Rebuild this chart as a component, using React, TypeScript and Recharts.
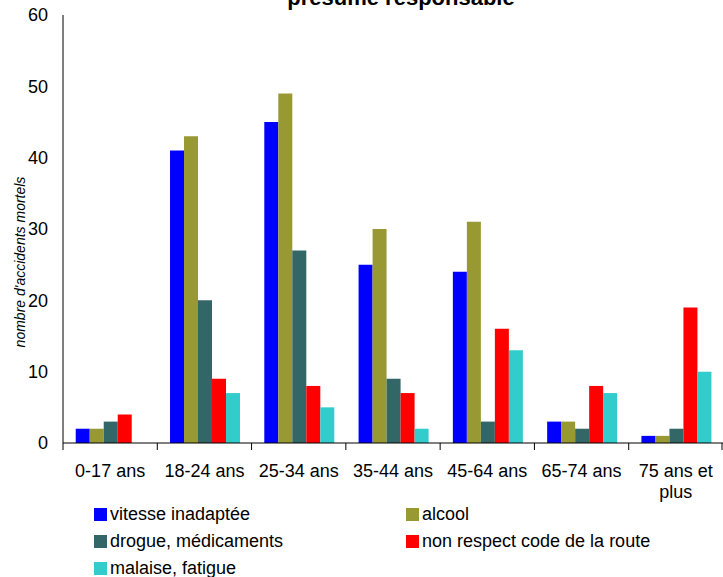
import { BarChart, Bar, XAxis, YAxis } from 'recharts';

const categories = ['0-17 ans', '18-24 ans', '25-34 ans', '35-44 ans', '45-64 ans', '65-74 ans', '75 ans et plus'];
const vitesse = [2, 41, 45, 25, 24, 3, 1];
const alcool = [2, 43, 49, 30, 31, 3, 1];
const drogue = [3, 20, 27, 9, 3, 2, 2];
const nonRespect = [4, 9, 8, 7, 16, 8, 19];
const malaise = [0, 7, 5, 2, 13, 7, 10];
const yTicks = [0, 10, 20, 30, 40, 50, 60];

const series = [
  { key: 'vitesse', name: 'vitesse inadaptée', color: '#0000FF', values: vitesse },
  { key: 'alcool', name: 'alcool', color: '#999933', values: alcool },
  { key: 'drogue', name: 'drogue, médicaments', color: '#336666', values: drogue },
  { key: 'nonRespect', name: 'non respect code de la route', color: '#FF0000', values: nonRespect },
  { key: 'malaise', name: 'malaise, fatigue', color: '#33CCCC', values: malaise },
];

const data = categories.map((cat, i) => {
  const row: Record<string, string | number> = { cat };
  series.forEach((s) => { row[s.key] = s.values[i]; });
  return row;
});

const FONT = '"Liberation Sans", Arial, sans-serif';
const W = 723;
const H = 577;
const PLOT_LEFT = 63;
const BAND = (W - PLOT_LEFT) / categories.length;

// category tick: boundary marks + label, wrapped when too long
function CatTick(props: any) {
  const { x, y, payload, index } = props;
  const label: string = payload.value;
  const lines = label.length > 10 ? [label.split(' ').slice(0, -1).join(' '), label.split(' ').slice(-1)[0]] : [label];
  const axisY = y - 21;
  return (
    <g>
      <line x1={x - BAND / 2} x2={x - BAND / 2} y1={axisY} y2={axisY + 7} stroke="#000" />
      {index === categories.length - 1 && (
        <line x1={x + BAND / 2 - 1} x2={x + BAND / 2 - 1} y1={axisY} y2={axisY + 7} stroke="#000" />
      )}
      <text x={x} y={y} textAnchor="middle" fontSize={18} fontFamily={FONT} fill="#000">
        {lines.map((l, i) => (
          <tspan key={i} x={x} dy={i === 0 ? '0.71em' : 21}>{l}</tspan>
        ))}
      </text>
    </g>
  );
}

export default function App() {
  return (
    <div style={{ position: 'absolute', left: 0, top: 0, width: W, height: H, background: '#fff', fontFamily: FONT }}>
      <BarChart
        width={W}
        height={H}
        data={data}
        margin={{ top: 15, right: 0, bottom: 104, left: 0 }}
        barCategoryGap="13.5%"
        barGap={0}
      >
        <XAxis
          dataKey="cat"
          height={30}
          axisLine={{ stroke: '#000' }}
          tickLine={false}
          tickSize={7}
          tickMargin={14}
          interval={0}
          tick={<CatTick />}
        />
        <YAxis
          width={63}
          domain={[0, 60]}
          ticks={yTicks}
          axisLine={{ stroke: '#000' }}
          tickLine={false}
          tickSize={6}
          tickMargin={9}
          tick={{ fontSize: 18, fill: '#000', fontFamily: FONT }}
        />
        {series.map((s) => (
          <Bar key={s.key} dataKey={s.key} name={s.name} fill={s.color} isAnimationActive={false} />
        ))}
        <text x={401} y={5} textAnchor="middle" fontSize={22} fontWeight="bold" fontFamily={FONT} fill="#000">
          présumé responsable
        </text>
        <text
          x={20}
          y={262}
          transform="rotate(-90, 20, 262)"
          textAnchor="middle"
          dominantBaseline="central"
          fontSize={14}
          fontStyle="italic"
          fontFamily={FONT}
          fill="#000"
        >
          nombre d'accidents mortels
        </text>
      </BarChart>
      <div
        style={{
          position: 'absolute',
          left: 94,
          top: 501,
          display: 'grid',
          gridTemplateColumns: '312px auto',
          fontSize: 18,
          color: '#000',
        }}
      >
        {series.map((s) => (
          <div key={s.key} style={{ display: 'flex', alignItems: 'center', height: 27, whiteSpace: 'nowrap' }}>
            <span style={{ display: 'inline-block', width: 13, height: 13, background: s.color, marginRight: 3 }} />
            <span>{s.name}</span>
          </div>
        ))}
      </div>
    </div>
  );
}
